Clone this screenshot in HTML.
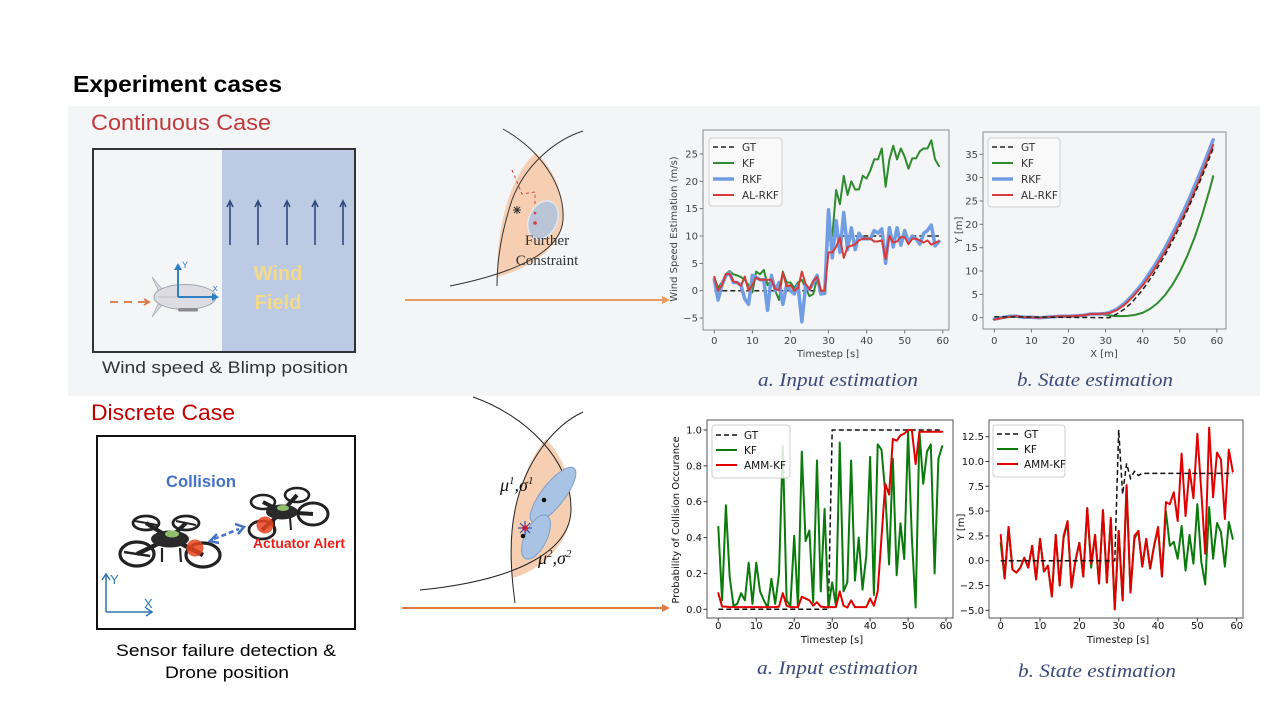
<!DOCTYPE html>
<html><head><meta charset="utf-8"><style>
html,body{margin:0;padding:0;background:#fff;}
svg{display:block;}
.ln{fill:none;vector-effect:non-scaling-stroke;stroke-linejoin:round;stroke-linecap:round;}
.mt{font-family:"DejaVu Sans","Liberation Sans",sans-serif;font-size:10px;}
.lg{font-size:10.5px;}
</style></head><body>
<svg width="1280" height="720" viewBox="0 0 1280 720" xmlns="http://www.w3.org/2000/svg">
<rect x="0" y="0" width="1280" height="720" fill="#ffffff"/>
<rect x="68" y="106" width="1192" height="290" fill="#f4f5f7"/>

<text x="73" y="92" font-family="Liberation Sans, sans-serif" font-weight="bold" font-size="23" fill="#000" textLength="209" lengthAdjust="spacingAndGlyphs">Experiment cases</text>
<text x="91" y="130" font-family="Liberation Sans, sans-serif" font-size="22" fill="#c0393b" textLength="180" lengthAdjust="spacingAndGlyphs">Continuous Case</text>
<text x="91" y="420" font-family="Liberation Sans, sans-serif" font-size="22" fill="#c00000" textLength="144" lengthAdjust="spacingAndGlyphs">Discrete Case</text>

<!-- ===== top-left box ===== -->
<rect x="93" y="149" width="262" height="203" fill="#f4f5f7" stroke="#333" stroke-width="2"/>
<rect x="222" y="150" width="132" height="201" fill="#bccbe3"/>
<g stroke="#2f4a7f" stroke-width="1.6" fill="none">
<line x1="230" y1="245" x2="230" y2="202"/><polyline points="227,207 230,201 233,207"/>
<line x1="258" y1="245" x2="258" y2="202"/><polyline points="255,207 258,201 261,207"/>
<line x1="287" y1="245" x2="287" y2="202"/><polyline points="284,207 287,201 290,207"/>
<line x1="315" y1="245" x2="315" y2="202"/><polyline points="312,207 315,201 318,207"/>
<line x1="343" y1="245" x2="343" y2="202"/><polyline points="340,207 343,201 346,207"/>
</g>
<text x="278" y="280" text-anchor="middle" font-family="Liberation Sans, sans-serif" font-weight="bold" font-size="20" fill="#f3d98a">Wind</text>
<text x="278" y="309" text-anchor="middle" font-family="Liberation Sans, sans-serif" font-weight="bold" font-size="20" fill="#f3d98a">Field</text>
<polygon points="163,290 152,277 158,290" fill="#d6d6dc" stroke="#b0b0b8" stroke-width="0.8"/>
<polygon points="163,304 152,317 158,304" fill="#d6d6dc" stroke="#b0b0b8" stroke-width="0.8"/>
<ellipse cx="185" cy="297" rx="31" ry="12.5" fill="#dcdce2" stroke="#a4a4ae" stroke-width="1"/>
<line x1="158" y1="297" x2="214" y2="297" stroke="#b8b8c0" stroke-width="0.8"/>
<rect x="178" y="308" width="20" height="3.5" rx="1.5" fill="#8a8a92"/>
<g fill="none" stroke="#d9764a" stroke-width="1.8">
<line x1="110" y1="302" x2="118" y2="302"/><line x1="124" y1="302" x2="132" y2="302"/><line x1="138" y1="302" x2="147" y2="302"/>
<polyline points="144,299 149,302 144,305"/>
</g>
<g stroke="#2f7fc4" stroke-width="2" fill="none">
<line x1="178" y1="297" x2="178" y2="267"/><line x1="178" y1="297" x2="214" y2="297"/>
</g>
<polygon points="174,270 178,263 182,270" fill="#2f7fc4"/>
<polygon points="212,293 219,297 212,301" fill="#2f7fc4"/>
<text x="182" y="268" font-family="Liberation Sans, sans-serif" font-size="9" fill="#2f7fc4">Y</text>
<text x="213" y="291" font-family="Liberation Sans, sans-serif" font-size="9" fill="#2f7fc4">x</text>
<text x="225" y="373" text-anchor="middle" font-family="Liberation Sans, sans-serif" font-size="17" fill="#333" textLength="246" lengthAdjust="spacingAndGlyphs">Wind speed &amp; Blimp position</text>

<!-- ===== bottom-left box ===== -->
<rect x="97" y="436" width="258" height="193" fill="#fff" stroke="#111" stroke-width="2"/>
<text x="166" y="487" font-family="Liberation Sans, sans-serif" font-weight="bold" font-size="17" fill="#4472c4" textLength="70" lengthAdjust="spacingAndGlyphs">Collision</text>
<g stroke="#222" fill="none">
<line x1="170" y1="538" x2="137" y2="554" stroke-width="4.5"/>
<line x1="170" y1="538" x2="146" y2="523" stroke-width="4"/>
<line x1="170" y1="538" x2="186" y2="523" stroke-width="4"/>
<line x1="170" y1="538" x2="203" y2="555" stroke-width="4.5"/>
<ellipse cx="137" cy="554" rx="17" ry="12" stroke-width="3.2"/>
<ellipse cx="146" cy="523" rx="13" ry="7" stroke-width="2.8"/>
<ellipse cx="186" cy="523" rx="13" ry="7" stroke-width="2.8"/>
<ellipse cx="203" cy="555" rx="17" ry="12" stroke-width="3.2"/>
<line x1="124" y1="552" x2="150" y2="556" stroke-width="2.5"/>
<line x1="135" y1="521" x2="157" y2="525" stroke-width="2"/>
<line x1="176" y1="521" x2="196" y2="525" stroke-width="2"/>
<line x1="162" y1="548" x2="162" y2="562" stroke-width="2.2"/>
<line x1="180" y1="548" x2="181" y2="562" stroke-width="2.2"/>
</g>
<ellipse cx="170" cy="539" rx="19" ry="8.5" fill="#2a2a2a"/>
<ellipse cx="172" cy="534" rx="7" ry="3.5" fill="#8fbf6a"/>
<g stroke="#222" fill="none">
<line x1="282" y1="512" x2="263" y2="502" stroke-width="4"/>
<line x1="282" y1="512" x2="297" y2="495" stroke-width="4"/>
<line x1="282" y1="512" x2="262" y2="530" stroke-width="4"/>
<line x1="282" y1="512" x2="313" y2="514" stroke-width="4"/>
<ellipse cx="263" cy="502" rx="12" ry="7" stroke-width="2.6"/>
<ellipse cx="297" cy="495" rx="12" ry="7" stroke-width="2.6"/>
<ellipse cx="262" cy="530" rx="13" ry="9" stroke-width="2.8"/>
<ellipse cx="313" cy="514" rx="15" ry="11" stroke-width="3"/>
<line x1="274" y1="520" x2="274" y2="532" stroke-width="2"/>
<line x1="290" y1="518" x2="291" y2="530" stroke-width="2"/>
</g>
<ellipse cx="282" cy="512" rx="16" ry="7.5" fill="#2a2a2a"/>
<ellipse cx="283" cy="508" rx="6" ry="3" fill="#8fbf6a"/>
<circle cx="195" cy="548" r="8.5" fill="#e8441f" opacity="0.85"/>
<circle cx="265" cy="525" r="8.5" fill="#e8441f" opacity="0.85"/>
<g stroke="#4472c4" stroke-width="2.5" fill="none">
<line x1="214" y1="539" x2="239" y2="529" stroke-dasharray="5 3"/>
<polyline points="217,534 210,541 219,543"/>
<polyline points="235,524 244,527 238,534"/>
</g>
<text x="253" y="548" font-family="Liberation Sans, sans-serif" font-weight="bold" font-size="13.5" fill="#e8201a" textLength="92" lengthAdjust="spacingAndGlyphs">Actuator Alert</text>
<g stroke="#2e75b6" stroke-width="1.5" fill="none">
<line x1="106" y1="612" x2="106" y2="575"/><polyline points="102,580 106,574 110,580"/>
<line x1="106" y1="612" x2="151" y2="612"/><polyline points="146,608 152,612 146,616"/>
</g>
<text x="110" y="584" font-family="Liberation Sans, sans-serif" font-size="13" fill="#2e75b6">Y</text>
<text x="144" y="608" font-family="Liberation Sans, sans-serif" font-size="13" fill="#2e75b6">X</text>
<text x="226" y="656" text-anchor="middle" font-family="Liberation Sans, sans-serif" font-size="17" fill="#000" textLength="220" lengthAdjust="spacingAndGlyphs">Sensor failure detection &amp;</text>
<text x="227" y="678" text-anchor="middle" font-family="Liberation Sans, sans-serif" font-size="17" fill="#000" textLength="124" lengthAdjust="spacingAndGlyphs">Drone position</text>

<!-- ===== top middle diagram ===== -->
<path d="M536,153 C555,170 564,195 563,220 C561,248 530,268 497,277 C497,250 500,225 508,200 C515,180 524,162 536,153 Z" fill="#f6cfb2"/>
<path d="M503,129 C540,150 565,185 563,220 C561,250 520,272 450,286" fill="none" stroke="#333" stroke-width="1"/>
<path d="M583,131 C555,140 525,165 512,200 C502,230 497,260 497,286" fill="none" stroke="#333" stroke-width="1"/>
<ellipse cx="543" cy="220" rx="14" ry="20" transform="rotate(25 543 220)" fill="#b9c4d6" stroke="#e2e7ef" stroke-width="1.5"/>
<g stroke="#d04040" stroke-width="1" fill="none" stroke-dasharray="3 3">
<path d="M512,170 L522,194 L535,192 L535,206"/>
</g>
<circle cx="535" cy="213" r="1.3" fill="#d04040"/>
<circle cx="535" cy="223" r="1.8" fill="#d04040"/>
<g stroke="#333" stroke-width="1"><line x1="513" y1="210" x2="521" y2="210"/><line x1="517" y1="206" x2="517" y2="214"/><line x1="514" y1="207" x2="520" y2="213"/><line x1="520" y1="207" x2="514" y2="213"/></g>
<text x="547" y="245" text-anchor="middle" font-family="Liberation Serif, serif" font-size="15" fill="#333">Further</text>
<text x="547" y="265" text-anchor="middle" font-family="Liberation Serif, serif" font-size="15" fill="#333">Constraint</text>
<line x1="405" y1="300" x2="663" y2="300" stroke="#e69a64" stroke-width="2"/>
<polygon points="662,296 670,300 662,304" fill="#e69a64"/>

<!-- ===== bottom middle diagram ===== -->
<path d="M546,439 C566,460 572,485 571,510 C570,548 535,572 513,578 C510,555 510,530 515,510 C521,480 532,455 546,439 Z" fill="#f6cfb2"/>
<path d="M473,397 C525,415 572,460 571,510 C570,550 520,580 420,590" fill="none" stroke="#222" stroke-width="1"/>
<path d="M583,412 C555,425 525,460 515,510 C508,545 512,580 515,603" fill="none" stroke="#222" stroke-width="1"/>
<ellipse cx="553" cy="495" rx="34" ry="11.5" transform="rotate(-52 553 495)" fill="#a8c3e3" stroke="#7f9fca" stroke-width="1"/>
<ellipse cx="536" cy="537" rx="24" ry="11" transform="rotate(-64 536 537)" fill="#a8c3e3" stroke="#7f9fca" stroke-width="1"/>
<circle cx="544" cy="500" r="2.3" fill="#111"/>
<circle cx="523" cy="536" r="2.3" fill="#111"/>
<g stroke="#3a4fa0" stroke-width="1.2"><line x1="518" y1="528" x2="532" y2="528"/><line x1="525" y1="521" x2="525" y2="535"/><line x1="520" y1="523" x2="530" y2="533"/><line x1="530" y1="523" x2="520" y2="533"/></g>
<circle cx="525" cy="528" r="2.8" fill="#c0203a"/>
<text x="500" y="491" font-family="Liberation Serif, serif" font-style="italic" font-size="18" fill="#111">μ<tspan font-size="11" dy="-7">1</tspan><tspan dy="7">,σ</tspan><tspan font-size="11" dy="-7">1</tspan></text>
<text x="538" y="564" font-family="Liberation Serif, serif" font-style="italic" font-size="18" fill="#111">μ<tspan font-size="11" dy="-7">2</tspan><tspan dy="7">,σ</tspan><tspan font-size="11" dy="-7">2</tspan></text>
<line x1="402" y1="608" x2="663" y2="608" stroke="#e07a3c" stroke-width="2"/>
<polygon points="662,604 670,608 662,612" fill="#e07a3c"/>

<!-- ===== Chart 1 ===== -->
<g class="mt" fill="#444">
<rect x="703" y="130" width="246" height="200" fill="#f4f5f7" stroke="#8a8a8a" stroke-width="1"/>
<g stroke="#777" stroke-width="1">
<line x1="714.3" y1="330" x2="714.3" y2="333.5"/><line x1="752.4" y1="330" x2="752.4" y2="333.5"/><line x1="790.4" y1="330" x2="790.4" y2="333.5"/><line x1="828.5" y1="330" x2="828.5" y2="333.5"/><line x1="866.6" y1="330" x2="866.6" y2="333.5"/><line x1="904.7" y1="330" x2="904.7" y2="333.5"/><line x1="942.7" y1="330" x2="942.7" y2="333.5"/>
<line x1="699.5" y1="318.1" x2="703" y2="318.1"/><line x1="699.5" y1="290.7" x2="703" y2="290.7"/><line x1="699.5" y1="263.4" x2="703" y2="263.4"/><line x1="699.5" y1="236" x2="703" y2="236"/><line x1="699.5" y1="208.7" x2="703" y2="208.7"/><line x1="699.5" y1="181.3" x2="703" y2="181.3"/><line x1="699.5" y1="154" x2="703" y2="154"/>
</g>
<g text-anchor="middle">
<text x="714.3" y="344">0</text><text x="752.4" y="344">10</text><text x="790.4" y="344">20</text><text x="828.5" y="344">30</text><text x="866.6" y="344">40</text><text x="904.7" y="344">50</text><text x="942.7" y="344">60</text>
</g>
<g text-anchor="end">
<text x="698" y="321.6">−5</text><text x="698" y="294.2">0</text><text x="698" y="266.9">5</text><text x="698" y="239.5">10</text><text x="698" y="212.2">15</text><text x="698" y="184.8">20</text><text x="698" y="157.5">25</text>
</g>
<text x="828" y="357" text-anchor="middle">Timestep [s]</text>
<text transform="translate(677,229) rotate(-90)" text-anchor="middle">Wind Speed Estimation (m/s)</text>
</g>
<polyline points="714.3,290.7 824.7,290.7 828.5,236 938.9,236" fill="none" stroke="#222" stroke-width="1.5" stroke-dasharray="5 3"/>
<g transform="matrix(3.807,0,0,-5.47,714.3,290.7)">
<polyline class="ln" stroke="#2e8b2e" stroke-width="2" points="0,2.5 1,0.5 2,1.5 3,3 4,3.6 5,3 6,2.8 7,2.5 8,2 9,1 10,-0.3 11,3.5 12,3 13,3.8 14,1 15,2 16,0 17,-1.7 18,3.5 19,1.5 20,1.5 21,0.5 22,1.5 23,2 24,0.5 25,-1 26,-0.6 27,2.3 28,0 29,0 30,12 31,10 32,18.4 33,15.8 34,21 35,17.5 36,20 37,18.5 38,18.5 39,21 40,20.5 41,22 42,24 43,24 44,26 45,19 46,24 47,26.5 48,24 49,26 50,24.5 51,22.3 52,24.2 53,24.2 54,25.5 55,26 56,26 57,27.5 58,24 59,22.8"/>
<polyline class="ln" stroke="#719ee3" stroke-width="3.5" points="0,2 1,-1.7 2,1 3,2.7 4,3.3 5,1.5 6,1.5 7,1 8,-1.5 9,-2.5 10,2.8 11,2.5 12,2 13,2 14,-3.6 15,2.8 16,0 17,1.5 18,-2.5 19,1 20,0 21,-0.6 22,1 23,-5.7 24,1 25,0.2 26,1.5 27,2.8 28,-0.6 29,-0.5 30,14.8 31,6 32,12.8 33,7 34,14.3 35,7.5 36,11.5 37,7.5 38,10.5 39,9.5 40,9.5 41,9.5 42,11 43,10.5 44,11.3 45,5 46,11.5 47,8 48,11.5 49,8.3 50,11 51,8.8 52,10 53,9.5 54,8.5 55,10.5 56,11 57,12 58,8.2 59,9"/>
<polyline class="ln" stroke="#d63a3a" stroke-width="2" points="0,2.5 1,0 2,1 3,3 4,3.1 5,1.7 6,1.5 7,0.9 8,2.6 9,0 10,1 11,2.4 12,2 13,2 14,2 15,2 16,0.3 17,0.1 18,3.3 19,0.8 20,1 21,0 22,0.5 23,3.5 24,1.2 25,0.2 26,1.8 27,2.5 28,0 29,0 30,7 31,7 32,8 33,9.7 34,6 35,8 36,8.2 37,8.5 38,9.2 39,9.5 40,9.5 41,9.5 42,9 43,9 44,9.2 45,5.8 46,10 47,8.8 48,9 49,9.8 50,9.8 51,8.5 52,9.5 53,9.5 54,9.2 55,8.8 56,9.2 57,8.4 58,8.8 59,9"/>
</g>
<g class="mt lg" fill="#333">
<rect x="709" y="138" width="73" height="68" rx="3" fill="#f9f9fa" stroke="#cfcfcf" stroke-width="1"/>
<line x1="713" y1="147" x2="734" y2="147" stroke="#222" stroke-width="1.5" stroke-dasharray="5 3"/>
<line x1="713" y1="163" x2="734" y2="163" stroke="#2e8b2e" stroke-width="2"/>
<line x1="713" y1="179" x2="734" y2="179" stroke="#719ee3" stroke-width="3.5"/>
<line x1="713" y1="195" x2="734" y2="195" stroke="#d63a3a" stroke-width="2"/>
<text x="742" y="150.8">GT</text><text x="742" y="166.8">KF</text><text x="742" y="182.8">RKF</text><text x="742" y="198.8">AL-RKF</text>
</g>

<!-- ===== Chart 2 ===== -->
<g class="mt" fill="#444">
<rect x="983" y="132" width="243" height="197" fill="#f4f5f7" stroke="#8a8a8a" stroke-width="1"/>
<g stroke="#777" stroke-width="1">
<line x1="994.3" y1="329" x2="994.3" y2="332.5"/><line x1="1031.4" y1="329" x2="1031.4" y2="332.5"/><line x1="1068.5" y1="329" x2="1068.5" y2="332.5"/><line x1="1105.6" y1="329" x2="1105.6" y2="332.5"/><line x1="1142.7" y1="329" x2="1142.7" y2="332.5"/><line x1="1179.8" y1="329" x2="1179.8" y2="332.5"/><line x1="1216.9" y1="329" x2="1216.9" y2="332.5"/>
<line x1="979.5" y1="317.7" x2="983" y2="317.7"/><line x1="979.5" y1="294.4" x2="983" y2="294.4"/><line x1="979.5" y1="271" x2="983" y2="271"/><line x1="979.5" y1="247.7" x2="983" y2="247.7"/><line x1="979.5" y1="224.3" x2="983" y2="224.3"/><line x1="979.5" y1="201" x2="983" y2="201"/><line x1="979.5" y1="177.6" x2="983" y2="177.6"/><line x1="979.5" y1="154.3" x2="983" y2="154.3"/>
</g>
<g text-anchor="middle">
<text x="994.3" y="344">0</text><text x="1031.4" y="344">10</text><text x="1068.5" y="344">20</text><text x="1105.6" y="344">30</text><text x="1142.7" y="344">40</text><text x="1179.8" y="344">50</text><text x="1216.9" y="344">60</text>
</g>
<g text-anchor="end">
<text x="978" y="321.2">0</text><text x="978" y="297.9">5</text><text x="978" y="274.5">10</text><text x="978" y="251.2">15</text><text x="978" y="227.8">20</text><text x="978" y="204.5">25</text><text x="978" y="181.1">30</text><text x="978" y="157.8">35</text>
</g>
<text x="1104" y="357" text-anchor="middle">X [m]</text>
<text transform="translate(962,230) rotate(-90)" text-anchor="middle">Y [m]</text>
</g>
<g transform="matrix(3.71,0,0,-4.67,994.3,317.7)">
<polyline class="ln" stroke="#2e8b2e" stroke-width="2" points="0,-0.4 2,-0.1 4,0.2 6,0.3 8,0.1 10,0.1 12,0 14,0.1 16,0.2 18,0.3 20,0.3 22,0.4 24,0.5 26,0.8 28,0.8 30,0.6 32,0.4 34,0.35 36,0.4 38,0.6 40,1.06 42,1.89 44,3.12 46,4.82 48,7.03 50,9.8 52,13.2 54,17.2 56,21.9 58,27.3 59,30.3"/>
<polyline class="ln" stroke="#719ee3" stroke-width="3.5" points="0,-0.3 2,0 4,0.3 6,0.3 8,0.1 10,0.1 12,0 14,0.1 16,0.2 18,0.3 20,0.3 22,0.4 24,0.5 26,0.8 28,0.8 30,0.9 31,1.1 33,1.8 35,3.0 37,4.6 40,7.4 43,10.9 46,14.9 49,19.5 52,24.5 55,30.1 57,34.0 59,38.1"/>
<polyline class="ln" stroke="#d63a3a" stroke-width="2" points="0,-0.4 2,-0.1 4,0.2 6,0.3 8,0.1 10,0.1 12,0 14,0.1 16,0.2 18,0.3 20,0.3 22,0.4 24,0.5 26,0.8 28,0.8 30,0.9 31,1.0 33,1.6 35,2.7 37,4.2 40,6.9 43,10.2 46,14.1 49,18.6 52,23.5 55,29.0 57,32.9 59,37.0"/>
</g>
<polyline points="994.3,316.8 1109.3,317.7 1116.7,314 1124.2,309.3 1131.6,302.8 1142.7,289.7 1153.8,273.8 1165,255.1 1176.1,234.1 1187.2,210.8 1198.4,185.1 1205.8,167.3 1213.2,148.2" fill="none" stroke="#222" stroke-width="1.5" stroke-dasharray="5 3"/>
<g class="mt lg" fill="#333">
<rect x="988" y="138" width="72" height="69" rx="3" fill="#f9f9fa" stroke="#cfcfcf" stroke-width="1"/>
<line x1="992" y1="147" x2="1013" y2="147" stroke="#222" stroke-width="1.5" stroke-dasharray="5 3"/>
<line x1="992" y1="163" x2="1013" y2="163" stroke="#2e8b2e" stroke-width="2"/>
<line x1="992" y1="179" x2="1013" y2="179" stroke="#719ee3" stroke-width="3.5"/>
<line x1="992" y1="195" x2="1013" y2="195" stroke="#d63a3a" stroke-width="2"/>
<text x="1021" y="150.8">GT</text><text x="1021" y="166.8">KF</text><text x="1021" y="182.8">RKF</text><text x="1021" y="198.8">AL-RKF</text>
</g>

<text x="758" y="386" font-family="Liberation Serif, serif" font-style="italic" font-size="19" fill="#3b4a7a" textLength="160" lengthAdjust="spacingAndGlyphs">a. Input estimation</text>
<text x="1017" y="386" font-family="Liberation Serif, serif" font-style="italic" font-size="19" fill="#3b4a7a" textLength="156" lengthAdjust="spacingAndGlyphs">b. State estimation</text>

<!-- ===== Chart 3 ===== -->
<g class="mt" fill="#111">
<rect x="707" y="420" width="246" height="198" fill="#fff" stroke="#555" stroke-width="1"/>
<g stroke="#333" stroke-width="1">
<line x1="718.3" y1="618" x2="718.3" y2="621.5"/><line x1="756.3" y1="618" x2="756.3" y2="621.5"/><line x1="794.2" y1="618" x2="794.2" y2="621.5"/><line x1="832.2" y1="618" x2="832.2" y2="621.5"/><line x1="870.1" y1="618" x2="870.1" y2="621.5"/><line x1="908.1" y1="618" x2="908.1" y2="621.5"/><line x1="946" y1="618" x2="946" y2="621.5"/>
<line x1="703.5" y1="609.3" x2="707" y2="609.3"/><line x1="703.5" y1="573.4" x2="707" y2="573.4"/><line x1="703.5" y1="537.6" x2="707" y2="537.6"/><line x1="703.5" y1="501.7" x2="707" y2="501.7"/><line x1="703.5" y1="465.9" x2="707" y2="465.9"/><line x1="703.5" y1="430" x2="707" y2="430"/>
</g>
<g text-anchor="middle">
<text x="718.3" y="629">0</text><text x="756.3" y="629">10</text><text x="794.2" y="629">20</text><text x="832.2" y="629">30</text><text x="870.1" y="629">40</text><text x="908.1" y="629">50</text><text x="946" y="629">60</text>
</g>
<g text-anchor="end">
<text x="702" y="612.8">0.0</text><text x="702" y="576.9">0.2</text><text x="702" y="541.1">0.4</text><text x="702" y="505.2">0.6</text><text x="702" y="469.4">0.8</text><text x="702" y="433.5">1.0</text>
</g>
<text x="832" y="643" text-anchor="middle">Timestep [s]</text>
<text transform="translate(679,520) rotate(-90)" text-anchor="middle">Probability of Collision Occurance</text>
</g>
<polyline points="718.3,609.3 828.4,609.3 832.2,430 942.2,430" fill="none" stroke="#111" stroke-width="1.5" stroke-dasharray="5 3"/>
<g transform="matrix(3.795,0,0,-179.3,718.3,609.3)">
<polyline class="ln" stroke="#0a7a0a" stroke-width="2" points="0,.46 1,.05 2,.58 3,.18 4,.02 5,.03 6,.09 7,.05 8,.26 9,.03 10,.26 11,.1 12,.05 13,.01 14,.17 15,.03 16,.2 17,.91 18,.05 19,.02 20,.41 21,.01 22,.88 23,.38 24,.44 25,.04 26,.83 27,.1 28,.56 29,.01 30,.15 31,.02 32,.93 33,.1 34,.15 35,.83 36,.16 37,.4 38,.11 39,.3 40,.85 41,.08 42,.92 43,.89 44,.65 45,.25 46,.84 47,.19 48,.48 49,.28 50,.99 51,.4 52,.01 53,.99 54,.7 55,.88 56,.92 57,.2 58,.84 59,.91"/>
<polyline class="ln" stroke="#e00000" stroke-width="2" points="0,.09 1,.015 2,.015 3,.012 4,.012 5,.012 6,.012 7,.012 8,.012 9,.012 10,.012 11,.012 12,.012 13,.012 14,.012 15,.012 16,.015 17,.09 18,.02 19,.012 20,.012 21,.012 22,.07 23,.06 24,.05 25,.02 26,.04 27,.015 28,.012 29,.012 30,.012 31,.012 32,.1 33,.02 34,.01 35,.05 36,.012 37,.012 38,.012 39,.012 40,.06 41,.02 42,.1 43,.4 44,.7 45,.64 46,.95 47,.94 48,.97 49,.98 50,1.0 51,1.0 52,.81 53,.99 54,.99 55,.99 56,.99 57,.99 58,.99 59,.99"/>
</g>
<g class="mt lg" fill="#111">
<rect x="712" y="425" width="78" height="53" rx="3" fill="#fff" fill-opacity="0.85" stroke="#cfcfcf" stroke-width="1"/>
<line x1="716" y1="435" x2="737" y2="435" stroke="#111" stroke-width="1.5" stroke-dasharray="5 3"/>
<line x1="716" y1="450" x2="737" y2="450" stroke="#0a7a0a" stroke-width="2"/>
<line x1="716" y1="465" x2="737" y2="465" stroke="#e00000" stroke-width="2"/>
<text x="744" y="438.8">GT</text><text x="744" y="453.8">KF</text><text x="744" y="468.8">AMM-KF</text>
</g>

<!-- ===== Chart 4 ===== -->
<g class="mt" fill="#111">
<rect x="989" y="420" width="254" height="198" fill="#fff" stroke="#555" stroke-width="1"/>
<g stroke="#333" stroke-width="1">
<line x1="1000.7" y1="618" x2="1000.7" y2="621.5"/><line x1="1040" y1="618" x2="1040" y2="621.5"/><line x1="1079.4" y1="618" x2="1079.4" y2="621.5"/><line x1="1118.7" y1="618" x2="1118.7" y2="621.5"/><line x1="1158" y1="618" x2="1158" y2="621.5"/><line x1="1197.4" y1="618" x2="1197.4" y2="621.5"/><line x1="1236.7" y1="618" x2="1236.7" y2="621.5"/>
<line x1="985.5" y1="610.3" x2="989" y2="610.3"/><line x1="985.5" y1="585.5" x2="989" y2="585.5"/><line x1="985.5" y1="560.7" x2="989" y2="560.7"/><line x1="985.5" y1="535.9" x2="989" y2="535.9"/><line x1="985.5" y1="511.1" x2="989" y2="511.1"/><line x1="985.5" y1="486.3" x2="989" y2="486.3"/><line x1="985.5" y1="461.5" x2="989" y2="461.5"/><line x1="985.5" y1="436.7" x2="989" y2="436.7"/>
</g>
<g text-anchor="middle">
<text x="1000.7" y="629">0</text><text x="1040" y="629">10</text><text x="1079.4" y="629">20</text><text x="1118.7" y="629">30</text><text x="1158" y="629">40</text><text x="1197.4" y="629">50</text><text x="1236.7" y="629">60</text>
</g>
<g text-anchor="end">
<text x="984" y="613.8">−5.0</text><text x="984" y="589">−2.5</text><text x="984" y="564.2">0.0</text><text x="984" y="539.4">2.5</text><text x="984" y="514.6">5.0</text><text x="984" y="489.8">7.5</text><text x="984" y="465">10.0</text><text x="984" y="440.2">12.5</text>
</g>
<text x="1118" y="643" text-anchor="middle">Timestep [s]</text>
<text transform="translate(964,527) rotate(-90)" text-anchor="middle">Y [m]</text>
</g>
<g transform="matrix(3.933,0,0,-9.92,1000.7,560.7)">
<polyline class="ln" stroke="#0a7a0a" stroke-width="2" points="0,1.8 1,-1.8 2,3.4 3,-0.9 4,-1.2 5,-0.7 6,0.3 7,-0.7 8,1.5 9,-1.9 10,2.2 11,-1.1 12,-0.5 13,-3.6 14,2.6 15,-2.5 16,2.3 17,3.8 18,-2.7 19,0 20,1.8 21,-1.6 22,5.3 23,-0.7 24,2.6 25,-2.3 26,5.1 27,-2.2 28,4.3 29,-4.9 30,3 31,-4 32,7.6 33,-3.2 34,2.2 35,3 36,-0.6 37,2.2 38,-0.8 39,1.5 40,3.2 41,-1.6 42,5 43,1.5 44,1.9 45,0.2 46,3.5 47,-1 48,2.6 49,-0.3 50,5.7 51,-0.1 52,-2.4 53,5.4 54,0.2 55,3.8 56,2.9 57,-0.6 58,3.9 59,2.2"/>
<polyline class="ln" stroke="#e00000" stroke-width="2" points="0,2.6 1,-1.8 2,3.4 3,-0.9 4,-1.2 5,-0.7 6,0.3 7,-0.7 8,1.5 9,-1.9 10,2.2 11,-1.1 12,-0.5 13,-3.6 14,2.6 15,-2.5 16,2.5 17,4 18,-2.7 19,0 20,1.8 21,-1.6 22,5.3 23,-0.3 24,2.6 25,-2.3 26,5.1 27,-2.2 28,4.3 29,-4.9 30,3 31,-4 32,7.6 33,-3.2 34,2.5 35,3 36,-0.6 37,2.2 38,-0.8 39,1.5 40,3.4 41,-1.6 42,5.9 43,5.7 44,6.9 45,4 46,10.8 47,4.5 48,9.2 49,6.3 50,12.8 51,7 52,0.7 53,13.4 54,6.4 55,10.9 56,10.2 57,4.2 58,11.2 59,9"/>
</g>
<polyline points="1000.7,560.7 1114.8,560.7 1118.7,429.8 1122.6,494.2 1126.6,463.5 1130.5,478.4 1134.4,471.4 1138.4,475.4 1142.3,473.4 1232.7,473.4" fill="none" stroke="#111" stroke-width="1.5" stroke-dasharray="5 3"/>
<g class="mt lg" fill="#111">
<rect x="993" y="425" width="72" height="52" rx="3" fill="#fff" fill-opacity="0.85" stroke="#cfcfcf" stroke-width="1"/>
<line x1="997" y1="434" x2="1018" y2="434" stroke="#111" stroke-width="1.5" stroke-dasharray="5 3"/>
<line x1="997" y1="449" x2="1018" y2="449" stroke="#0a7a0a" stroke-width="2"/>
<line x1="997" y1="464" x2="1018" y2="464" stroke="#e00000" stroke-width="2"/>
<text x="1024" y="437.8">GT</text><text x="1024" y="452.8">KF</text><text x="1024" y="467.8">AMM-KF</text>
</g>

<text x="757" y="674" font-family="Liberation Serif, serif" font-style="italic" font-size="19" fill="#3b4a7a" textLength="161" lengthAdjust="spacingAndGlyphs">a. Input estimation</text>
<text x="1018" y="677" font-family="Liberation Serif, serif" font-style="italic" font-size="19" fill="#3b4a7a" textLength="158" lengthAdjust="spacingAndGlyphs">b. State estimation</text>
</svg>
</body></html>
